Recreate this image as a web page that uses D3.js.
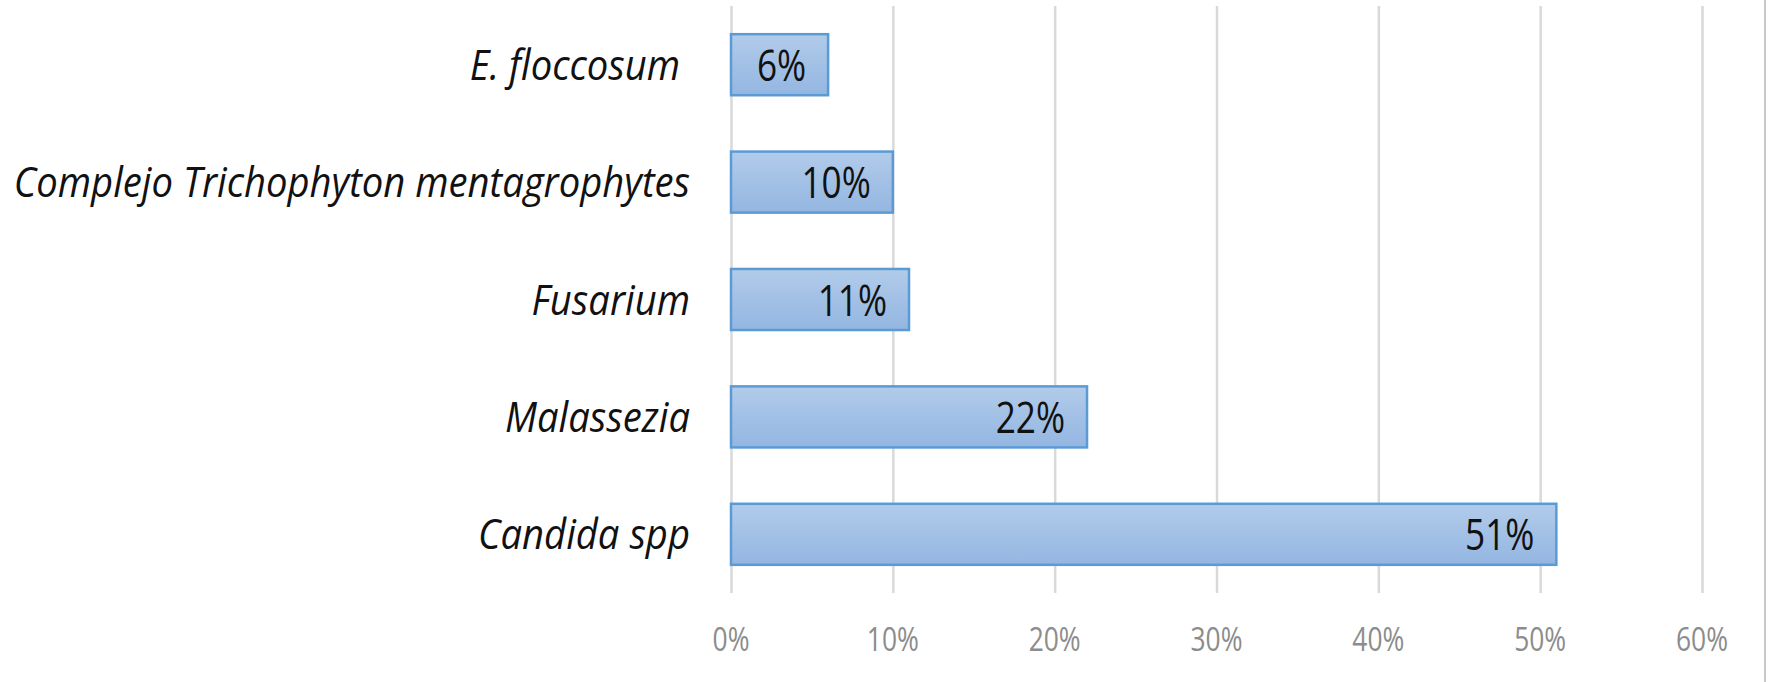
<!DOCTYPE html>
<html>
<head>
<meta charset="utf-8">
<script src="https://cdn.jsdelivr.net/npm/d3@7"></script>
<style>
  html, body { margin: 0; padding: 0; background: #fff; }
  svg { display: block; }
  text { font-family: "Open Sans", "Noto Sans", sans-serif; white-space: pre; }
</style>
</head>
<body>
<svg id="chart" width="1770" height="682"></svg>
<script>
// data, top to bottom as in the picture
var categories = ["E. floccosum ", "Complejo Trichophyton mentagrophytes", "Fusarium", "Malassezia", "Candida spp"];
var values = [6, 10, 11, 22, 51];
var tickValues = [0, 10, 20, 30, 40, 50, 60];
var tickLabels = ["0%", "10%", "20%", "30%", "40%", "50%", "60%"];

var svg = d3.select("#chart");

var x = d3.scaleLinear().domain([0, 60]).range([731, 1702]);
var y = d3.scaleBand().domain(categories).range([6, 593]).paddingInner(0.48).paddingOuter(0.24);

// gradient for the bars
var defs = svg.append("defs");
var grad = defs.append("linearGradient").attr("id", "barGrad")
  .attr("x1", 0).attr("y1", 0).attr("x2", 0).attr("y2", 1);
grad.append("stop").attr("offset", "0%").attr("stop-color", "#b2cbea");
grad.append("stop").attr("offset", "100%").attr("stop-color", "#93b6e1");

// gridlines
svg.append("g")
  .attr("transform", "translate(0,593)")
  .call(d3.axisBottom(x).tickValues(tickValues).tickSize(-587).tickFormat(""))
  .call(function(g) { g.select(".domain").remove(); })
  .selectAll("line")
  .attr("stroke", "#d9d9d9")
  .attr("stroke-width", 2.5);

// tick labels (squeezed a bit, the original font is narrow)
svg.append("g").selectAll("text")
  .data(tickValues)
  .enter().append("text")
  .attr("transform", function(d) { return "translate(" + x(d) + ",651) scale(0.8,1)"; })
  .attr("text-anchor", "middle")
  .attr("font-size", 33)
  .attr("fill", "#8c8c8c")
  .text(function(d, i) { return tickLabels[i]; });

// bars
svg.append("g").selectAll("rect")
  .data(values)
  .enter().append("rect")
  .attr("x", x(0))
  .attr("y", function(d, i) { return y(categories[i]); })
  .attr("width", function(d) { return x(d) - x(0); })
  .attr("height", y.bandwidth())
  .attr("fill", "url(#barGrad)")
  .attr("stroke", "#5b9bd5")
  .attr("stroke-width", 2.5);

// value labels inside end
svg.append("g").selectAll("text")
  .data(values)
  .enter().append("text")
  .attr("transform", function(d, i) {
    return "translate(" + (x(d) - 22) + "," + (y(categories[i]) + y.bandwidth() / 2 + 16) + ") scale(0.8,1)";
  })
  .attr("text-anchor", "end")
  .attr("font-size", 44)
  .attr("fill", "#111")
  .text(function(d) { return d + "%"; });

// category labels
svg.append("g").selectAll("text")
  .data(categories)
  .enter().append("text")
  .attr("transform", function(d) {
    return "translate(690," + (y(d) + y.bandwidth() / 2 + 15) + ") scale(0.91,1)";
  })
  .attr("text-anchor", "end")
  .attr("font-size", 42)
  .attr("font-style", "italic")
  .attr("fill", "#111")
  .text(function(d) { return d; });

// right border of the chart area
svg.append("line")
  .attr("x1", 1765).attr("x2", 1765)
  .attr("y1", 0).attr("y2", 682)
  .attr("stroke", "#c8c8c8")
  .attr("stroke-width", 2);
</script>
</body>
</html>
